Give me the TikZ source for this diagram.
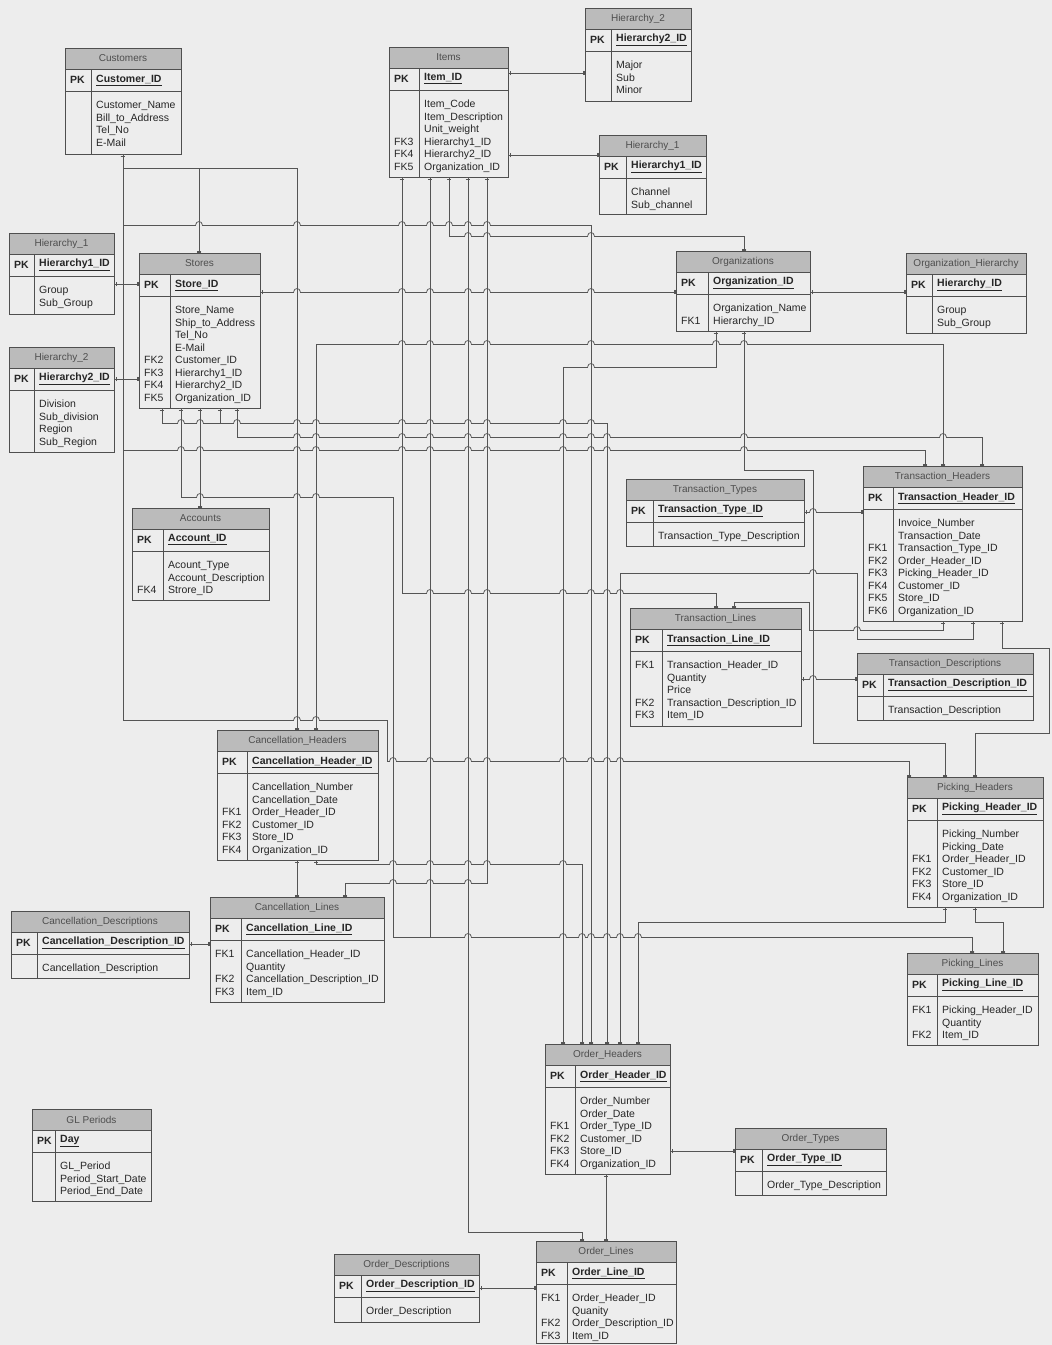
\documentclass[tikz,border=0pt]{standalone}
\usepackage{fontspec}
\setmainfont{Liberation Sans}
\usetikzlibrary{arrows.meta,calc}

\definecolor{pagebg}{HTML}{EDEDED}
\definecolor{boxline}{HTML}{4F4F4F}
\definecolor{bandfill}{HTML}{BBBBBB}
\definecolor{inktext}{HTML}{262626}
\definecolor{bandtext}{HTML}{4E4E4E}
\definecolor{wire}{HTML}{555555}

\tikzset{
  tblbox/.style={fill=pagebg, inner sep=0pt, outer sep=0pt},
  tblline/.style={draw=boxline, line width=0.8pt},
  titletext/.style={text=bandtext, font=\fontsize{10}{12}\selectfont, inner sep=0pt},
  keytext/.style={text=inktext, font=\fontsize{10.5}{12.5}\selectfont\bfseries, inner sep=0pt},
  bodytext/.style={text=inktext, font=\fontsize{10.5}{12.5}\selectfont, inner sep=0pt},
  endmark/.tip={Bar[width=4.5pt,line width=0.6pt,sep=1.3pt]Bar[width=4.5pt,line width=0.6pt]},
  rel/.style={draw=wire, line width=0.75pt, endmark-endmark},
}

% entity box: name, x, y (top left), width, height, key column width, title, primary key, rows
\newcommand\ertable[9]{%
  \node[tblbox, minimum width=#4pt, minimum height=#5pt, anchor=north west] (#1) at (#2,#3) {};
  \fill[bandfill] (#1.north west) rectangle ([yshift=-21pt]#1.north east);
  \draw[tblline] ([yshift=-21pt]#1.north west) -- ([yshift=-21pt]#1.north east);
  \draw[tblline] ([yshift=-43pt]#1.north west) -- ([yshift=-43pt]#1.north east);
  \draw[tblline] ([shift={(#6pt,-21pt)}]#1.north west) -- ([xshift=#6pt]#1.south west);
  \draw[tblline] (#1.north west) rectangle (#1.south east);
  \node[titletext] (#1-title) at ([yshift=-10.5pt]#1.north) {#7};
  \node[keytext, anchor=west] (#1-pk) at ([shift={(5pt,-32pt)}]#1.north west) {PK};
  \node[keytext, anchor=west] (#1-id) at ([shift={(#6pt+5pt,-32pt)}]#1.north west) {\underline{#8}};
  \node[bodytext, anchor=north west] (#1-rows) at ([shift={(5pt,-52pt)}]#1.north west)
    {\begin{tabular}{@{}p{#6pt}@{}l@{}}#9\end{tabular}};
}

% small bridge where a horizontal wire passes over a vertical one
\newcommand\wirehop[2]{%
  \fill[pagebg] (#1-3.4,#2-1.1) rectangle (#1+3.4,#2+1.1);
  \draw[wire, line width=0.75pt] (#1,#2-1.3) -- (#1,#2+1.3);
  \draw[wire, line width=0.75pt] (#1-3.4,#2) .. controls (#1-3.2,#2-4.6) and (#1+3.2,#2-4.6) .. (#1+3.4,#2);
}

\begin{document}
\begin{tikzpicture}[x=1pt,y=-1pt]
\fill[pagebg] (0,0) rectangle (1052,1345);
\useasboundingbox (0,0) rectangle (1052,1345);

% ---------- entities ----------
\ertable{cust}{65}{48}{116}{106}{26}{Customers}{Customer\_ID}{& Customer\_Name\\ & Bill\_to\_Address\\ & Tel\_No\\ & E-Mail}
\ertable{items}{389}{47}{119}{130}{30}{Items}{Item\_ID}{& Item\_Code\\ & Item\_Description\\ & Unit\_weight\\ FK3 & Hierarchy1\_ID\\ FK4 & Hierarchy2\_ID\\ FK5 & Organization\_ID}
\ertable{hbtop}{585}{8}{106}{93}{26}{Hierarchy\_2}{Hierarchy2\_ID}{& Major\\ & Sub\\ & Minor}
\ertable{hatop}{599}{135}{107}{79}{27}{Hierarchy\_1}{Hierarchy1\_ID}{& Channel\\ & Sub\_channel}
\ertable{haleft}{9}{233}{105}{81}{25}{Hierarchy\_1}{Hierarchy1\_ID}{& Group\\ & Sub\_Group}
\ertable{hbleft}{9}{347}{105}{105}{25}{Hierarchy\_2}{Hierarchy2\_ID}{& Division\\ & Sub\_division\\ & Region\\ & Sub\_Region}
\ertable{stores}{139}{253}{121}{155}{31}{Stores}{Store\_ID}{& Store\_Name\\ & Ship\_to\_Address\\ & Tel\_No\\ & E-Mail\\ FK2 & Customer\_ID\\ FK3 & Hierarchy1\_ID\\ FK4 & Hierarchy2\_ID\\ FK5 & Organization\_ID}
\ertable{orgs}{676}{251}{134}{80}{32}{Organizations}{Organization\_ID}{& Organization\_Name\\ FK1 & Hierarchy\_ID}
\ertable{orgh}{906}{253}{120}{80}{26}{Organization\_Hierarchy}{Hierarchy\_ID}{& Group\\ & Sub\_Group}
\ertable{acct}{132}{508}{137}{92}{31}{Accounts}{Account\_ID}{& Acount\_Type\\ & Account\_Description\\ FK4 & Strore\_ID}
\ertable{ttypes}{626}{479}{178}{67}{27}{Transaction\_Types}{Transaction\_Type\_ID}{& Transaction\_Type\_Description}
\ertable{thead}{863}{466}{159}{155}{30}{Transaction\_Headers}{Transaction\_Header\_ID}{& Invoice\_Number\\ & Transaction\_Date\\ FK1 & Transaction\_Type\_ID\\ FK2 & Order\_Header\_ID\\ FK3 & Picking\_Header\_ID\\ FK4 & Customer\_ID\\ FK5 & Store\_ID\\ FK6 & Organization\_ID}
\ertable{tlines}{630}{608}{171}{118}{32}{Transaction\_Lines}{Transaction\_Line\_ID}{FK1 & Transaction\_Header\_ID\\ & Quantity\\ & Price\\ FK2 & Transaction\_Description\_ID\\ FK3 & Item\_ID}
\ertable{tdesc}{857}{653}{176}{67}{26}{Transaction\_Descriptions}{Transaction\_Description\_ID}{& Transaction\_Description}
\ertable{chead}{217}{730}{161}{130}{30}{Cancellation\_Headers}{Cancellation\_Header\_ID}{& Cancellation\_Number\\ & Cancellation\_Date\\ FK1 & Order\_Header\_ID\\ FK2 & Customer\_ID\\ FK3 & Store\_ID\\ FK4 & Organization\_ID}
\ertable{clines}{210}{897}{174}{105}{31}{Cancellation\_Lines}{Cancellation\_Line\_ID}{FK1 & Cancellation\_Header\_ID\\ & Quantity\\ FK2 & Cancellation\_Description\_ID\\ FK3 & Item\_ID}
\ertable{cdesc}{11}{911}{178}{67}{26}{Cancellation\_Descriptions}{Cancellation\_Description\_ID}{& Cancellation\_Description}
\ertable{phead}{907}{777}{136}{130}{30}{Picking\_Headers}{Picking\_Header\_ID}{& Picking\_Number\\ & Picking\_Date\\ FK1 & Order\_Header\_ID\\ FK2 & Customer\_ID\\ FK3 & Store\_ID\\ FK4 & Organization\_ID}
\ertable{plines}{907}{953}{131}{92}{30}{Picking\_Lines}{Picking\_Line\_ID}{FK1 & Picking\_Header\_ID\\ & Quantity\\ FK2 & Item\_ID}
\ertable{ohead}{545}{1044}{125}{130}{30}{Order\_Headers}{Order\_Header\_ID}{& Order\_Number\\ & Order\_Date\\ FK1 & Order\_Type\_ID\\ FK2 & Customer\_ID\\ FK3 & Store\_ID\\ FK4 & Organization\_ID}
\ertable{otypes}{735}{1128}{151}{67}{27}{Order\_Types}{Order\_Type\_ID}{& Order\_Type\_Description}
\ertable{olines}{536}{1241}{140}{102}{31}{Order\_Lines}{Order\_Line\_ID}{FK1 & Order\_Header\_ID\\ & Quanity\\ FK2 & Order\_Description\_ID\\ FK3 & Item\_ID}
\ertable{odesc}{334}{1254}{145}{68}{27}{Order\_Descriptions}{Order\_Description\_ID}{& Order\_Description}
\ertable{glper}{32}{1109}{119}{92}{23}{GL Periods}{Day}{& GL\_Period\\ & Period\_Start\_Date\\ & Period\_End\_Date}

% ---------- relationships ----------
% side-to-side links
\draw[rel] (items.east |- 0,73) -- (hbtop.west |- 0,73);
\draw[rel] (items.east |- 0,155) -- (hatop.west |- 0,155);
\draw[rel] (haleft.east |- 0,284) -- (stores.west |- 0,284);
\draw[rel] (hbleft.east |- 0,379) -- (stores.west |- 0,379);
\draw[rel] (stores.east |- 0,292) -- (orgs.west |- 0,292);
\draw[rel] (orgs.east |- 0,292) -- (orgh.west |- 0,292);
\draw[rel] (ttypes.east |- 0,512) -- (thead.west |- 0,512);
\draw[rel] (tlines.east |- 0,679) -- (tdesc.west |- 0,679);
\draw[rel] (cdesc.east |- 0,944) -- (clines.west |- 0,944);
\draw[rel] (otypes.west |- 0,1151) -- (ohead.east |- 0,1151);
\draw[rel] (odesc.east |- 0,1288) -- (olines.west |- 0,1288);

% Customers
\draw[rel] (123,0 |- cust.south) -- (123,168) -- (199,168) -- (199,0 |- stores.north);
\draw[rel] (123,0 |- cust.south) -- (123,168) -- (297,168) -- (297,0 |- chead.north);
\draw[rel] (123,0 |- cust.south) -- (123,225) -- (591,225) -- (591,0 |- ohead.north);
\draw[rel] (123,0 |- cust.south) -- (123,450) -- (925,450) -- (925,0 |- thead.north);
\draw[rel] (123,0 |- cust.south) -- (123,720) -- (387,720) -- (387,761) -- (909,761) -- (909,0 |- phead.north);

% Items
\draw[rel] (449,0 |- items.south) -- (449,236) -- (744,236) -- (744,0 |- orgs.north);
\draw[rel] (402,0 |- items.south) -- (402,593) -- (716,593) -- (716,0 |- tlines.north);
\draw[rel] (430,0 |- items.south) -- (430,937) -- (972,937) -- (972,0 |- plines.north);
\draw[rel] (468,0 |- items.south) -- (468,1232) -- (582,1232) -- (582,0 |- olines.north);
\draw[rel] (487,0 |- items.south) -- (487,883) -- (345,883) -- (345,0 |- clines.north);

% Stores
\draw[rel] (200,0 |- stores.south) -- (200,0 |- acct.north);
\draw[rel] (162,0 |- stores.south) -- (162,423) -- (607,423) -- (607,0 |- ohead.north);
\draw[rel] (220,0 |- stores.south) -- (220,423) -- (607,423) -- (607,0 |- ohead.north);
\draw[rel] (237,0 |- stores.south) -- (237,437) -- (982,437) -- (982,0 |- thead.north);
\draw[rel] (181,0 |- stores.south) -- (181,497) -- (393,497) -- (393,937) -- (972,937) -- (972,0 |- plines.north);

% Organizations
\draw[rel] (716,0 |- orgs.south) -- (716,344) -- (316,344) -- (316,0 |- chead.north);
\draw[rel] (716,0 |- orgs.south) -- (716,344) -- (943,344) -- (943,0 |- thead.north);
\draw[rel] (716,0 |- orgs.south) -- (716,367) -- (563,367) -- (563,0 |- ohead.north);
\draw[rel] (744,0 |- orgs.south) -- (744,470) -- (813,470) -- (813,743) -- (945,743) -- (945,0 |- phead.north);

% Transaction headers
\draw[rel] (943,0 |- thead.south) -- (943,630) -- (809,630) -- (809,602) -- (734,602) -- (734,0 |- tlines.north);
\draw[rel] (973,0 |- thead.south) -- (973,639) -- (857,639) -- (857,573) -- (620,573) -- (620,0 |- ohead.north);
\draw[rel] (1002,0 |- thead.south) -- (1002,648) -- (1049,648) -- (1049,733) -- (975,733) -- (975,0 |- phead.north);

% Cancellations
\draw[rel] (297,0 |- chead.south) -- (297,0 |- clines.north);
\draw[rel] (316,0 |- chead.south) -- (316,864) -- (582,864) -- (582,0 |- ohead.north);

% Picking
\draw[rel] (945,0 |- phead.south) -- (945,922) -- (638,922) -- (638,0 |- ohead.north);
\draw[rel] (975,0 |- phead.south) -- (975,922) -- (1003,922) -- (1003,0 |- plines.north);

% Orders
\draw[rel] (606,0 |- ohead.south) -- (606,0 |- olines.north);

% ---------- bridges at wire crossings ----------
\foreach \hx/\hy in {
  199/225, 297/225, 402/225, 430/225, 449/225, 468/225, 487/225,
  468/236, 487/236, 591/236,
  297/292, 402/292, 430/292, 468/292, 487/292, 591/292,
  402/344, 430/344, 468/344, 487/344, 591/344, 716/344, 744/344,
  591/367,
  181/423, 200/423, 237/423, 297/423, 316/423, 402/423, 430/423, 468/423, 487/423, 563/423, 591/423,
  297/437, 316/437, 402/437, 430/437, 468/437, 487/437, 563/437, 591/437, 607/437, 744/437, 943/437,
  181/450, 200/450, 297/450, 316/450, 402/450, 430/450, 468/450, 487/450, 563/450, 591/450, 607/450, 744/450,
  200/497, 297/497, 316/497,
  813/512, 813/573,
  430/593, 468/593, 487/593, 563/593, 591/593, 607/593, 620/593,
  857/630, 813/679,
  297/720, 316/720,
  393/761, 430/761, 468/761, 487/761, 563/761, 591/761, 607/761, 620/761,
  393/864, 430/864, 468/864, 487/864, 563/864,
  393/883, 430/883, 468/883,
  468/937, 563/937, 582/937, 591/937, 607/937, 620/937, 638/937}
  {\wirehop{\hx}{\hy}}
\end{tikzpicture}
\end{document}
